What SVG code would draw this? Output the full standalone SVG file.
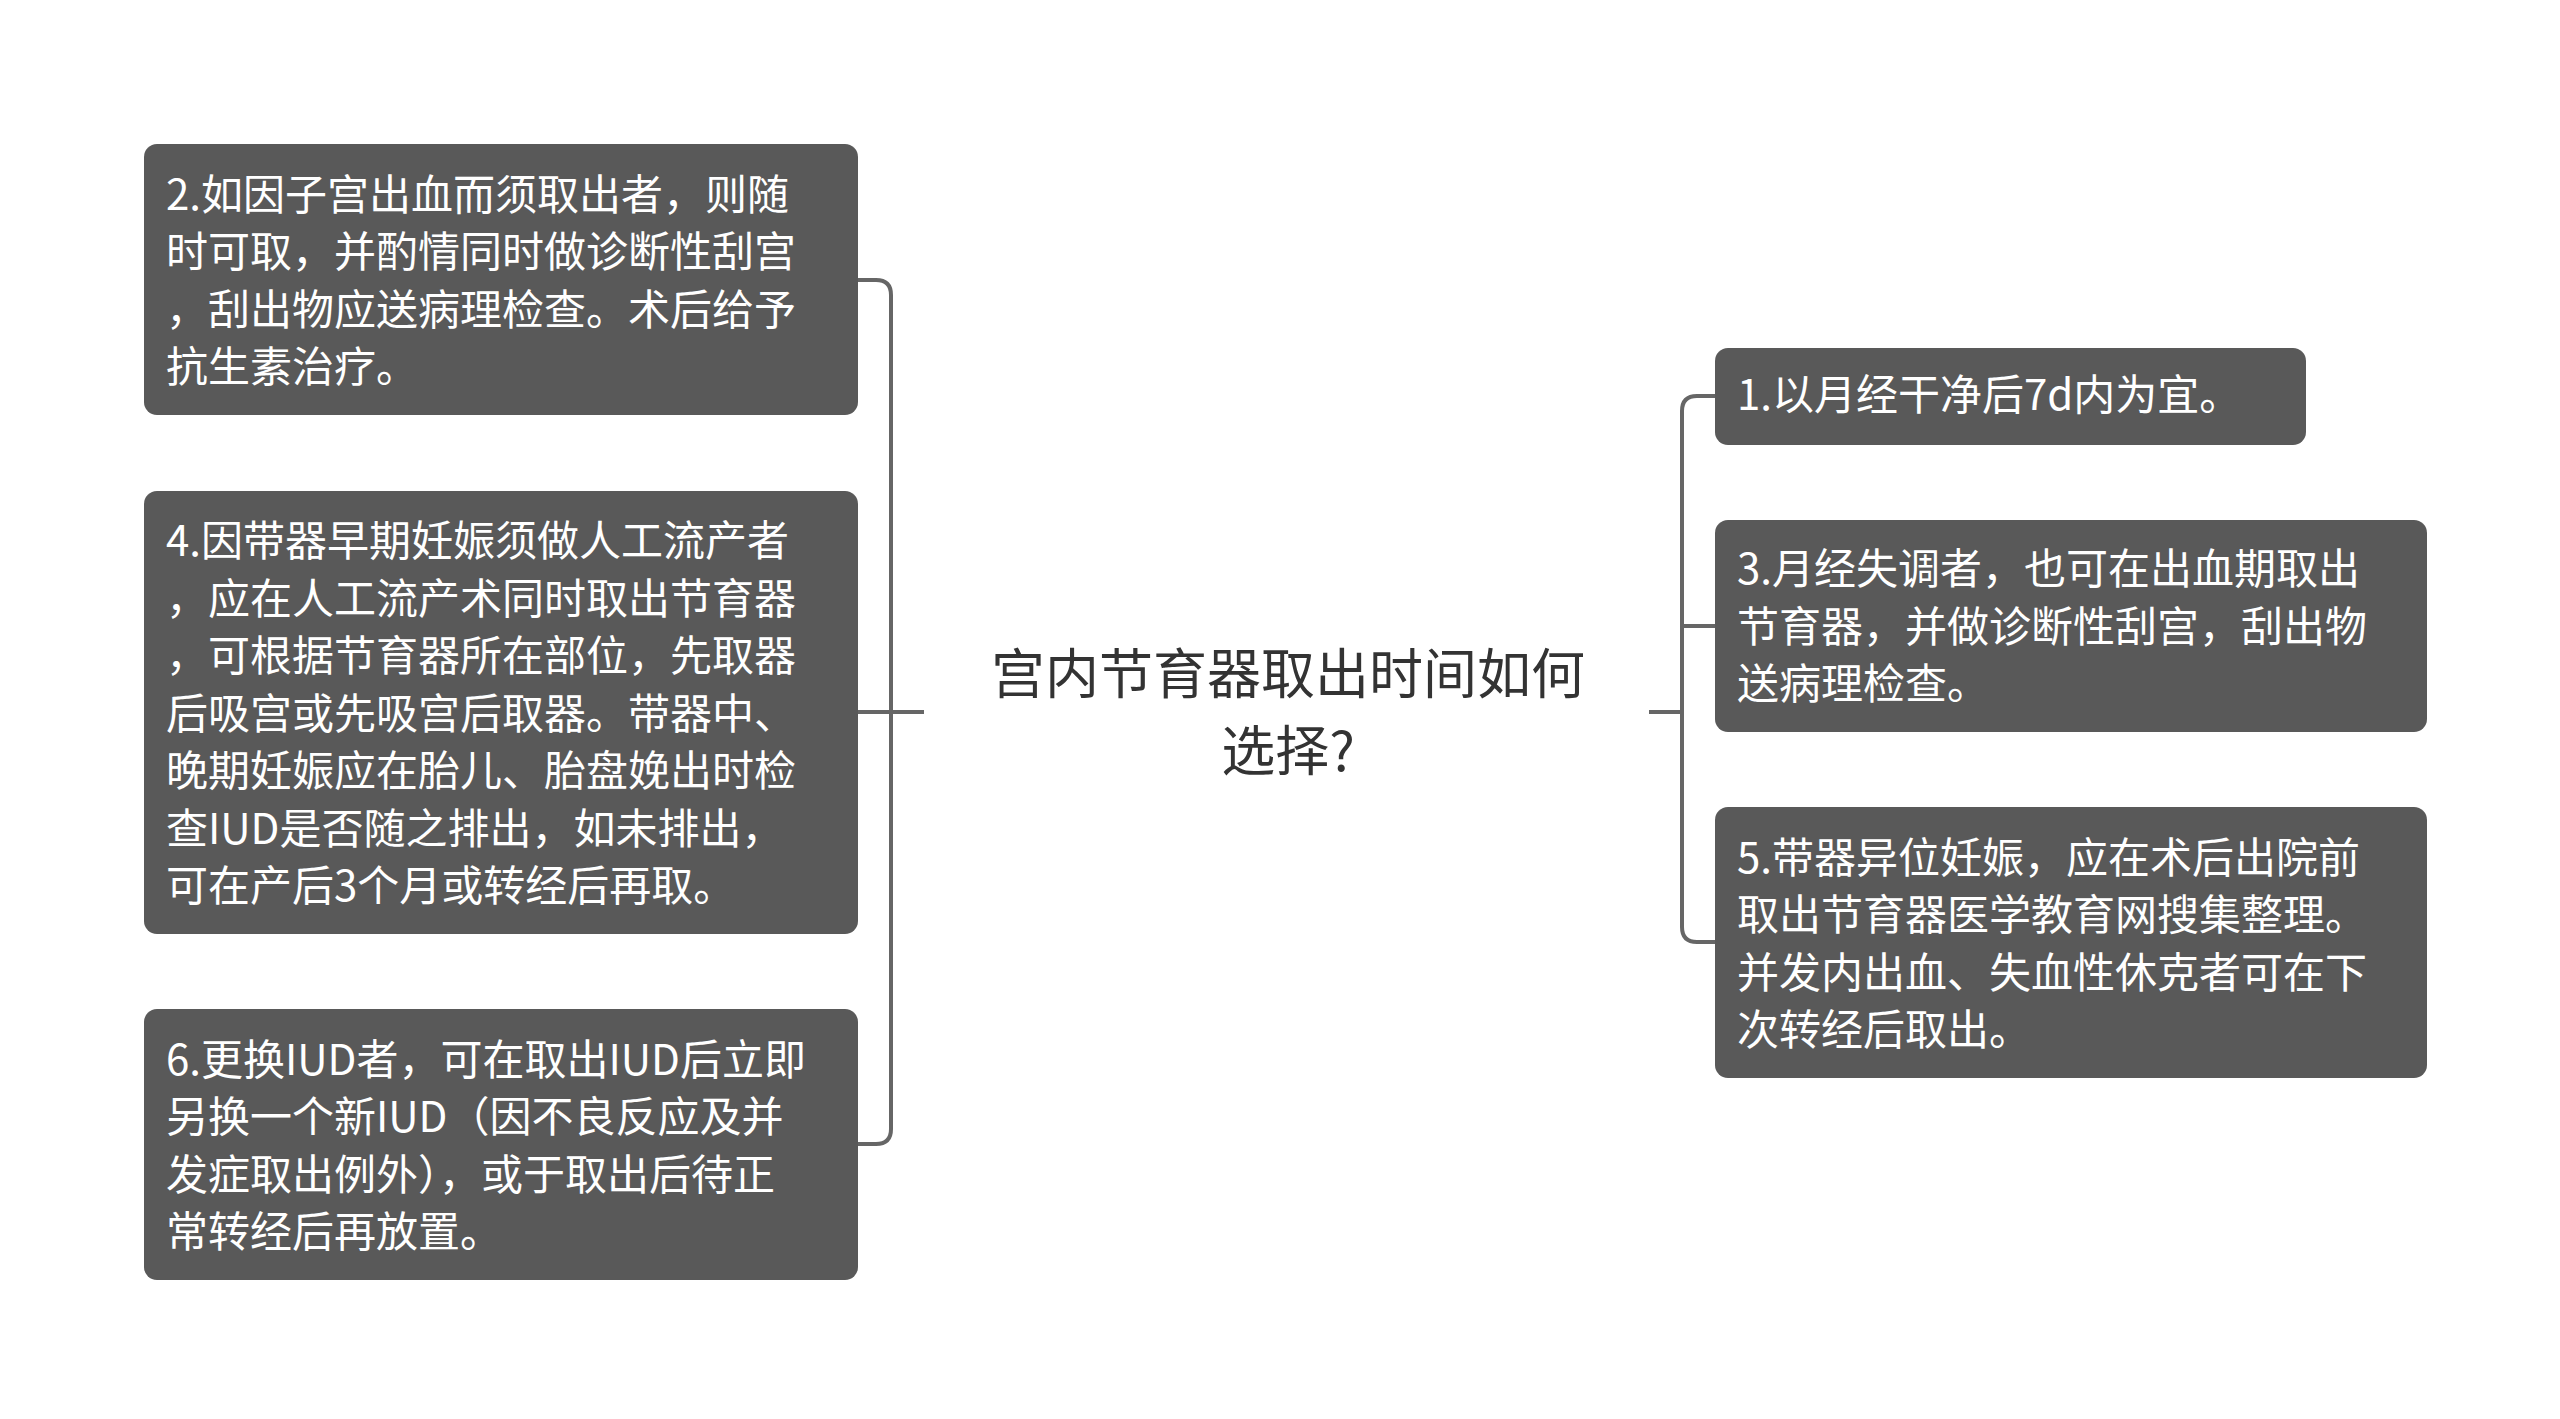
<svg xmlns="http://www.w3.org/2000/svg" width="2560" height="1419" viewBox="0 0 2560 1419">
<style>
.n{fill:#595959;}
.t{fill:#ffffff;font-family:"Noto Sans CJK SC","Liberation Sans",sans-serif;font-size:42px;}
.c{fill:#333333;font-family:"Noto Sans CJK SC","Liberation Sans",sans-serif;font-size:54px;text-anchor:middle;}
.l{fill:none;stroke:#666666;stroke-width:4;}
</style>
<rect width="2560" height="1419" fill="#ffffff"/>
<g id="connectors">
<path class="l" d="M858 280 H876 Q891 280 891 295 V1129 Q891 1144 876 1144 H858"/>
<path class="l" d="M858 712 H924"/>
<path class="l" d="M1715 396 H1697 Q1682 396 1682 411 V927 Q1682 942 1697 942 H1715"/>
<path class="l" d="M1682 626 H1715"/>
<path class="l" d="M1649 712 H1682"/>
</g>
<g id="center"><text class="c" x="1288" y="694">宫内节育器取出时间如何</text><text class="c" x="1288" y="771">选择?</text></g>
<g id="node2"><rect class="n" x="144" y="144" width="714" height="271" rx="13"/>
<text class="t" x="166" y="210">2.如因子宫出血而须取出者，则随</text><text class="t" x="166" y="267">时可取，并酌情同时做诊断性刮宫</text><text class="t" x="166" y="325">，刮出物应送病理检查。术后给予</text><text class="t" x="166" y="382">抗生素治疗。</text></g>
<g id="node4"><rect class="n" x="144" y="491" width="714" height="443" rx="13"/>
<text class="t" x="166" y="556">4.因带器早期妊娠须做人工流产者</text><text class="t" x="166" y="614">，应在人工流产术同时取出节育器</text><text class="t" x="166" y="671">，可根据节育器所在部位，先取器</text><text class="t" x="166" y="729">后吸宫或先吸宫后取器。带器中、</text><text class="t" x="166" y="786">晚期妊娠应在胎儿、胎盘娩出时检</text><text class="t" x="166" y="844">查IUD是否随之排出，如未排出，</text><text class="t" x="166" y="901">可在产后3个月或转经后再取。</text></g>
<g id="node6"><rect class="n" x="144" y="1009" width="714" height="271" rx="13"/>
<text class="t" x="166" y="1075">6.更换IUD者，可在取出IUD后立即</text><text class="t" x="166" y="1132">另换一个新IUD（因不良反应及并</text><text class="t" x="166" y="1190">发症取出例外），或于取出后待正</text><text class="t" x="166" y="1247">常转经后再放置。</text></g>
<g id="node1"><rect class="n" x="1715" y="348" width="591" height="97" rx="13"/>
<text class="t" x="1737" y="410">1.以月经干净后7d内为宜。</text></g>
<g id="node3"><rect class="n" x="1715" y="520" width="712" height="212" rx="13"/>
<text class="t" x="1737" y="584">3.月经失调者，也可在出血期取出</text><text class="t" x="1737" y="642">节育器，并做诊断性刮宫，刮出物</text><text class="t" x="1737" y="699">送病理检查。</text></g>
<g id="node5"><rect class="n" x="1715" y="807" width="712" height="271" rx="13"/>
<text class="t" x="1737" y="873">5.带器异位妊娠，应在术后出院前</text><text class="t" x="1737" y="930">取出节育器医学教育网搜集整理。</text><text class="t" x="1737" y="988">并发内出血、失血性休克者可在下</text><text class="t" x="1737" y="1045">次转经后取出。</text></g>
</svg>
